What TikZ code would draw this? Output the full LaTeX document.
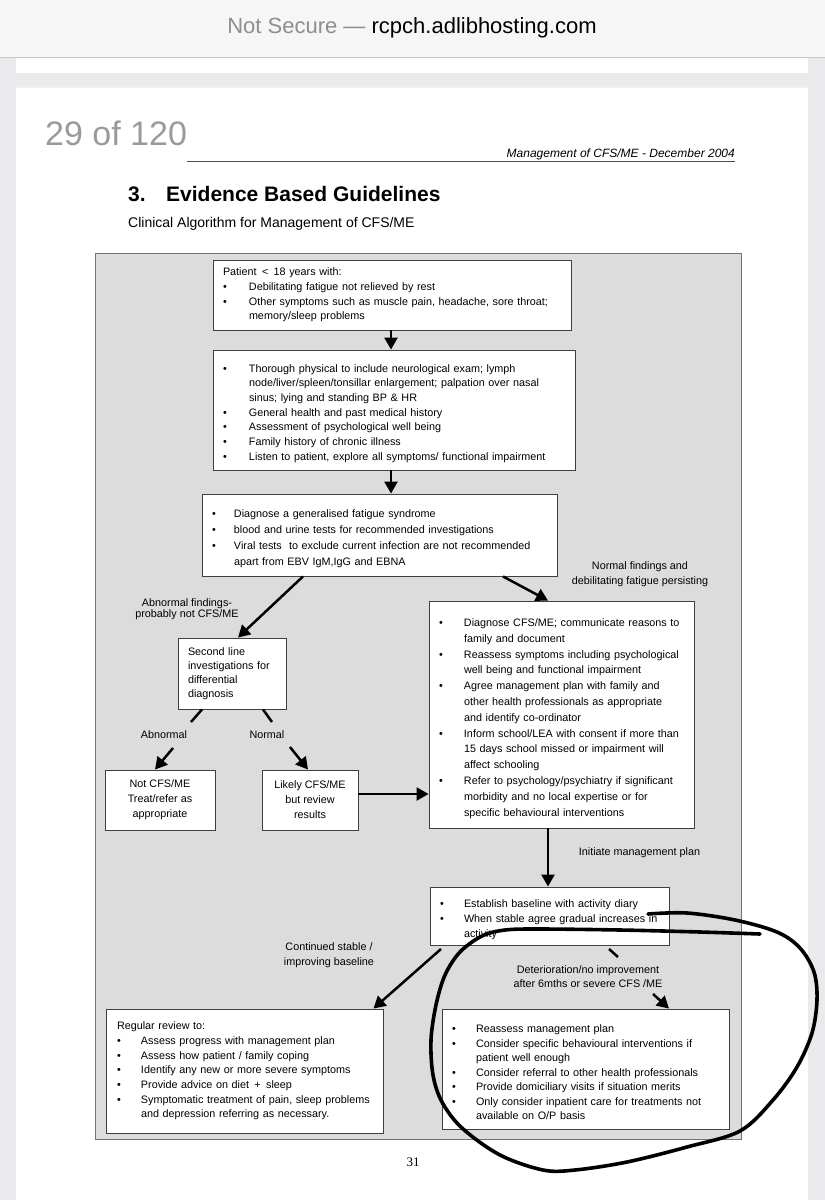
\documentclass[tikz,border=0pt]{standalone}
\usepackage{fontspec}
\setmainfont{Liberation Sans}
\newfontfamily\seriffont{Liberation Serif}
\usetikzlibrary{arrows.meta}
\definecolor{barbg}{HTML}{F6F6F6}
\definecolor{gapbg}{HTML}{EAEAED}
\definecolor{panel}{HTML}{DCDCDC}
\definecolor{pagenum}{HTML}{9A9A9A}
\definecolor{urlgray}{HTML}{8E8E8E}
\newcommand\bxs[1]{\fontsize{10.8}{#1}\selectfont\parskip=0pt\relax}
\newcommand\itm[2][25]{\par\noindent\hangindent=#1pt\hangafter=1\makebox[#1pt][l]{\textbullet}#2\par}
\newcommand\nl{\newline}
\begin{document}
\begin{tikzpicture}[x=1pt,y=-1pt,
  lbox/.style={draw=black!75, line width=0.9pt, fill=white, inner xsep=10pt, inner ysep=0pt, align=left},
  cbox/.style={draw=black!75, line width=0.9pt, fill=white, inner sep=0pt, align=center, font=\bxs{15}},
  conn/.style={line width=2.5pt, -{Triangle[length=12pt,width=13pt]}},
  stub/.style={line width=2.5pt},
  lab/.style={align=center, inner sep=0pt, font=\bxs{15}}
]
\useasboundingbox (0,0) rectangle (825,1200);
% browser chrome
\fill[gapbg] (0,0) rectangle (825,1200);
\fill[barbg] (0,0) rectangle (825,57);
\draw[black!22, line width=0.8pt] (0,57) -- (825,57);
\node[font=\fontsize{22}{26}\selectfont, inner sep=0pt] (url) at (412,28) {\textcolor{urlgray}{Not Secure —} rcpch.adlibhosting.com};
\fill[white] (16,57.5) rectangle (808,73);
\fill[black!6] (16,86) rectangle (808,88);
\fill[white] (16,88) rectangle (808,1200);
% page header
\node[font=\fontsize{34}{38}\selectfont, text=pagenum, anchor=west, inner sep=0pt] (pg) at (45,133) {29 of 120};
\draw[black!70, line width=0.8pt] (187,161) -- (735,161);
\node[font=\fontsize{12}{14}\selectfont\itshape, anchor=base east, inner sep=0pt] (hdr) at (735,157) {Management of CFS/ME - December 2004};
\node[font=\fontsize{21}{24}\selectfont\bfseries, anchor=base west, inner sep=0pt] (sec) at (128,201) {3.};
\node[font=\fontsize{21}{24}\selectfont\bfseries, anchor=base west, inner sep=0pt] (ttl) at (166,201) {Evidence Based Guidelines};
\node[font=\fontsize{14}{16}\selectfont, anchor=base west, inner sep=0pt] (sub) at (128,227) {Clinical Algorithm for Management of CFS/ME};
% panel
\filldraw[fill=panel, draw=black!55, line width=0.8pt] (95,253) rectangle (741,1139);
% boxes
\node[lbox, font=\bxs{14.7}, text width=338pt, minimum height=70pt] (b1) at (392,295) {%
Patient \,<\, 18 years with:
\itm[26]{Debilitating fatigue not relieved by rest}
\itm[26]{Other symptoms such as muscle pain, headache, sore throat;\nl memory/sleep problems}};
\node[lbox, font=\bxs{14.7}, text width=342pt, minimum height=120pt] (b2) at (394,410) {%
\itm[26]{Thorough physical to include neurological exam; lymph\nl node/liver/spleen/tonsillar enlargement; palpation over nasal\nl sinus; lying and standing BP \& HR}
\itm[26]{General health and past medical history}
\itm[26]{Assessment of psychological well being}
\itm[26]{Family history of chronic illness}
\itm[26]{Listen to patient, explore all symptoms/ functional impairment}};
\node[lbox, font=\bxs{16}, text width=335pt, minimum height=82pt] (b3) at (379.5,535) {%
\itm[22]{Diagnose a generalised fatigue syndrome}
\itm[22]{blood and urine tests for recommended investigations}
\itm[22]{Viral tests \ to exclude current infection are not recommended\nl apart from EBV IgM,IgG and EBNA}};
\node[lbox, font=\bxs{14}, text width=88pt, minimum height=71pt] (sl) at (232,673.5) {%
Second line\\investigations for\\differential\\diagnosis};
\node[cbox, minimum width=110pt, minimum height=60pt] (nc) at (160,800) {Not CFS/ME\\Treat/refer as\\appropriate};
\node[cbox, minimum width=96pt, minimum height=60pt] (lk) at (310,800) {Likely CFS/ME\\but review\\results};
\node[lbox, font=\bxs{15.8}, text width=245pt, minimum height=227pt] (cfs) at (561.5,714.5) {%
\itm{Diagnose CFS/ME; communicate reasons to\nl family and document}
\itm{Reassess symptoms including psychological\nl well being and functional impairment}
\itm{Agree management plan with family and\nl other health professionals as appropriate\nl and identify co-ordinator}
\itm{Inform school/LEA with consent if more than\nl 15 days school missed or impairment will\nl affect schooling}
\itm{Refer to psychology/psychiatry if significant\nl morbidity and no local expertise or for\nl specific behavioural interventions}};
\node[lbox, font=\bxs{15}, text width=219pt, minimum height=58pt] (est) at (549.5,916) {%
\itm[24]{Establish baseline with activity diary}
\itm[24]{When stable agree gradual increases in\nl activity}};
\node[lbox, font=\bxs{14.7}, inner xsep=11pt, text width=255pt, minimum height=124pt] (rr) at (244.5,1071) {%
Regular review to:
\itm[24]{Assess progress with management plan}
\itm[24]{Assess how patient / family coping}
\itm[24]{Identify any new or more severe symptoms}
\itm[24]{Provide advice on diet \,+\, sleep}
\itm[24]{Symptomatic treatment of pain, sleep problems\nl and depression referring as necessary.}};
\node[lbox, font=\bxs{14.5}, text width=267pt, minimum height=120pt] (ra) at (585.5,1069) {%
\itm[24]{Reassess management plan}
\itm[24]{Consider specific behavioural interventions if\nl patient well enough}
\itm[24]{Consider referral to other health professionals}
\itm[24]{Provide domiciliary visits if situation merits}
\itm[24]{Only consider inpatient care for treatments not\nl available on O/P basis}};
% labels
\node[lab, font=\bxs{11.5}] (l1) at (187,609) {Abnormal findings-\\probably not CFS/ME};
\node[lab] (l2) at (640,574.5) {Normal findings and\\debilitating fatigue persisting};
\node[lab] (l3) at (164,735) {Abnormal};
\node[lab] (l4) at (267,735) {Normal};
\node[lab] (l5) at (639.5,853) {Initiate management plan};
\node[lab] (l6) at (329,955.5) {Continued stable /\\improving baseline};
\node[lab, font=\bxs{14}] (l7) at (588,977) {Deterioration/no improvement\\after 6mths or severe CFS /ME};
% coordinates for broken connectors
\coordinate (s1) at (191,722);
\coordinate (s2) at (272,722);
\coordinate (a1) at (173,748);
\coordinate (a2) at (290,747);
\coordinate (e1) at (441,949);
\coordinate (e2) at (609,949);
\coordinate (e3) at (618,957);
\coordinate (e4) at (653,994);
% connectors
\draw[conn] ([xshift=-1pt]b1.south) -- ([xshift=-3pt]b2.north);
\draw[conn] ([xshift=-3pt]b2.south) -- ([xshift=11.5pt]b3.north);
\draw[conn] ([xshift=-76.5pt]b3.south) -- ([xshift=6pt]sl.north);
\draw[conn] ([xshift=123.5pt]b3.south) -- ([xshift=-13.5pt]cfs.north);
\draw[stub] ([xshift=-30pt]sl.south) -- (s1);
\draw[stub] ([xshift=31pt]sl.south) -- (s2);
\draw[conn] (a1) -- ([xshift=-5pt]nc.north);
\draw[conn] (a2) -- ([xshift=-2pt]lk.north);
\draw[conn] ([yshift=6pt]lk.east) -- ([yshift=6pt]lk.east -| cfs.west);
\draw[conn] ([xshift=-13.5pt]cfs.south) -- ([xshift=-1.5pt]est.north);
\draw[conn] (e1) -- ([xshift=-10pt]rr.north east);
\draw[stub] (e2) -- (e3);
\draw[conn] (e4) -- ([xshift=83.5pt]ra.north);
% page number
\node[font=\seriffont\fontsize{13}{15}\selectfont, inner sep=0pt] (pn) at (413,1162) {31};
% hand-drawn loop
\draw[line width=3.6pt, line cap=round, line join=round] plot[smooth, tension=0.55] coordinates {
(760,934) (700,932) (620,930) (540,929) (505,930) (482,936) (460,952) (445,975) (436,1005) (431,1040) (433,1075) (442,1102) (462,1128) (500,1155) (543,1170) (575,1170) (627,1162) (687,1147) (740,1131) (773,1100) (797,1067) (812,1033) (817,1000) (814,972) (800,948) (777,932) (735,920) (687,913) (648,914)};
\end{tikzpicture}
\end{document}
